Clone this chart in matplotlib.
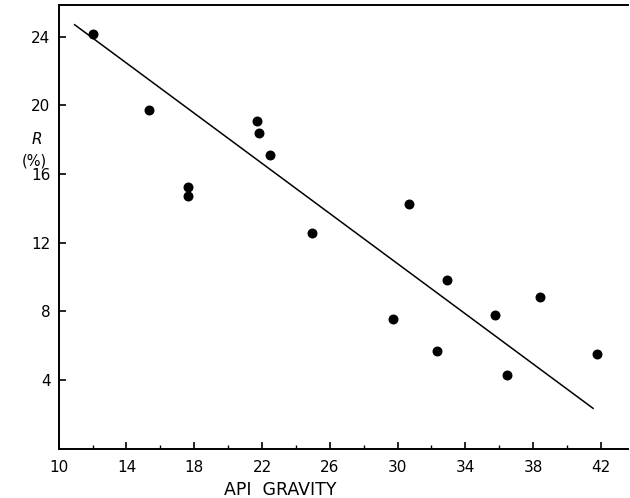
import numpy as np
import matplotlib.pyplot as plt
from matplotlib.ticker import MultipleLocator

# API gravity vs R (%) for the crude samples
api_gravity = [12.0, 15.3, 17.65, 17.63, 21.72, 21.8, 22.48, 24.94,
               30.68, 29.74, 32.93, 32.32, 35.78, 36.43, 38.4, 41.78]
r_percent = [24.13, 19.73, 15.26, 14.72, 19.09, 18.37, 17.09, 12.55,
             14.25, 7.54, 9.83, 5.67, 7.79, 4.31, 8.85, 5.5]

# fitted line end points
line_x = [10.94, 41.54]
line_y = [24.69, 2.35]

x_ticks = [10, 14, 18, 22, 26, 30, 34, 38, 42]
y_ticks = [4, 8, 12, 16, 20, 24]

fig = plt.figure(figsize=(6.3, 4.98), dpi=100)
ax = fig.add_axes([0.0932, 0.099, 0.9036, 0.891])

ax.plot(line_x, line_y, color='black', lw=1.1)
ax.scatter(api_gravity, r_percent, s=38, color='black', zorder=3)

ax.set_xlim(10, 43.6)
ax.set_ylim(0, 25.84)
ax.set_xticks(x_ticks)
ax.set_yticks(y_ticks)
ax.xaxis.set_minor_locator(MultipleLocator(2))

ax.spines['right'].set_visible(False)
for s in ['left', 'bottom', 'top']:
    ax.spines[s].set_linewidth(1.4)

ax.tick_params(axis='both', which='major', direction='in', length=5, width=1.2,
               labelsize=11, pad=6)
ax.tick_params(axis='x', which='minor', direction='in', length=3, width=1)
ax.tick_params(axis='x', which='major', pad=8)

ax.set_xlabel('API  GRAVITY', fontsize=12.5)
ax.xaxis.set_label_coords(0.39, -0.072)

fig.text(37 / 630, 1 - 140 / 498, 'R', fontsize=11, style='italic',
         ha='center', va='center')
fig.text(34 / 630, 1 - 161 / 498, '(%)', fontsize=10.5,
         ha='center', va='center')

plt.savefig('out.png', dpi=100)
